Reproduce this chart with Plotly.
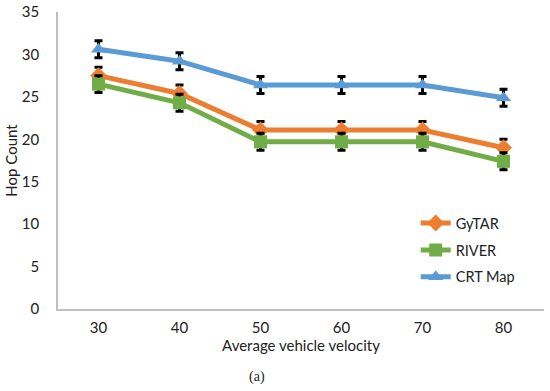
import plotly.graph_objects as go

categories = ["30", "40", "50", "60", "70", "80"]
gytar = [27.5, 25.4, 21.1, 21.1, 21.1, 19.0]
river = [26.5, 24.3, 19.7, 19.7, 19.7, 17.4]
crt_map = [30.6, 29.2, 26.4, 26.4, 26.4, 24.9]
err = [1, 1, 1, 1, 1, 1]

series = [
    ("GyTAR", gytar, "#ED7D31", "diamond"),
    ("RIVER", river, "#70AD47", "square"),
    ("CRT Map", crt_map, "#5B9BD5", "triangle-up"),
]

fig = go.Figure()
for name, vals, color, sym in series:
    fig.add_trace(go.Scatter(
        x=categories, y=vals, name=name, mode="lines+markers", legendgroup=name,
        line=dict(color=color, width=5),
        marker=dict(symbol=sym, size=13, color=color),
        error_y=dict(type="data", array=err, visible=True, color="black", thickness=3, width=4),
    ))

font = "Lato, 'Open Sans', sans-serif"
fig.update_layout(
    template="none",
    width=550, height=391,
    margin=dict(l=58, r=6, t=12, b=82),
    plot_bgcolor="white", paper_bgcolor="white",
    font=dict(family=font, size=15, color="#222"),
    showlegend=True,
    legend=dict(x=0.736, y=0.343, xanchor="left", yanchor="top", bgcolor="rgba(0,0,0,0)",
                font=dict(size=14.5, color="#222"), itemwidth=30, tracegroupgap=5),
    xaxis=dict(type="category", showgrid=False, showline=True, linecolor="#BFBFBF", linewidth=1.5,
               ticks="outside", ticklen=4, tickcolor="rgba(0,0,0,0)", automargin=False,
               title=dict(text="Average vehicle velocity", standoff=0, font=dict(size=15)),
               range=[-0.5, 5.5]),
    yaxis=dict(range=[0, 35], dtick=5, showgrid=False, showline=True, linecolor="#BFBFBF", linewidth=1.5,
               ticks="outside", ticklen=14, tickcolor="rgba(0,0,0,0)", zeroline=False, automargin=False,
               title=dict(text="Hop Count", standoff=1, font=dict(size=15))),
)
fig.add_annotation(text="(a)", x=(257 - 58) / 486, y=-(377 - 309) / 297, xref="paper", yref="paper",
                   showarrow=False, yanchor="middle",
                   font=dict(size=14, color="#222", family="'Liberation Serif', serif"), xanchor="center")
fig.write_html("out.html", config={"displayModeBar": False},
               post_script="document.body.style.margin='0';")
